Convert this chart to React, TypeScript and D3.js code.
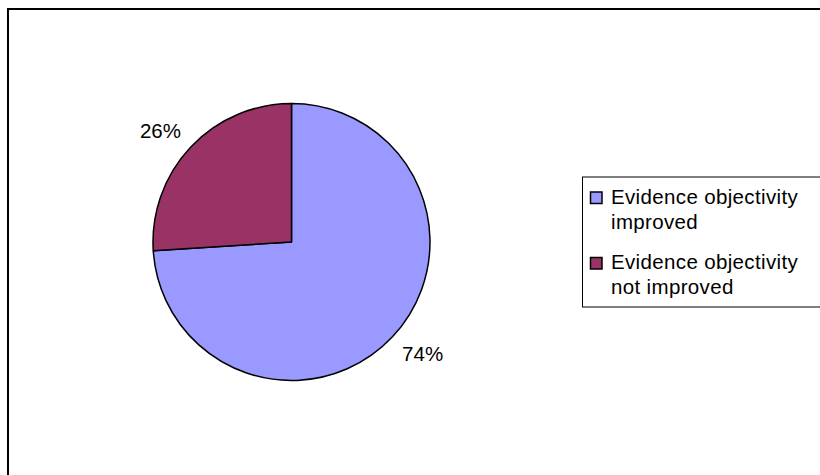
import React from "react";
import * as d3 from "d3";

const categories = ["Evidence objectivity improved", "Evidence objectivity not improved"];
const values = [74, 26];
const legendLines = [["Evidence objectivity", "improved"], ["Evidence objectivity", "not improved"]];
const colors = ["#9999FF", "#993366"];

export default function App() {
  const W = 820, H = 475;
  const cx = 291.5, cy = 242, r = 138.5;
  const pie = d3.pie<number>().sort(null).value((d) => d).startAngle(0).endAngle(2 * Math.PI);
  const arcs = pie(values);
  const arc = d3.arc<d3.PieArcDatum<number>>().innerRadius(0).outerRadius(r);
  const total = d3.sum(values);
  const labelR = 172;
  const font = "'Liberation Sans', Arial, sans-serif";
  return (
    <svg width={W} height={H} style={{ position: "absolute", left: 0, top: 0, background: "#fff" }}>
      <rect x={8} y={9} width={W} height={H} fill="#fff" stroke="#000" strokeWidth={2} />
      <g transform={`translate(${cx},${cy})`}>
        {arcs.map((a, i) => (
          <path key={i} d={arc(a) || ""} fill={colors[i]} stroke="#000" strokeWidth={1.5} strokeLinejoin="round" />
        ))}
        {arcs.map((a, i) => {
          const mid = (a.startAngle + a.endAngle) / 2 - 0.05;
          const x = labelR * Math.sin(mid);
          const y = -labelR * Math.cos(mid);
          return (
            <text key={i} x={x} y={y} dy="0.36em" textAnchor="middle" fontFamily={font} fontSize={20.5} fill="#000">
              {Math.round((a.data / total) * 100)}%
            </text>
          );
        })}
      </g>
      <g>
        <rect x={582.5} y={177} width={300} height={130} fill="#fff" stroke="#000" strokeWidth={1} />
        {categories.map((c, i) => {
          const y0 = 192 + i * 65.5;
          return (
            <g key={c}>
              <rect x={590.5} y={y0} width={11.5} height={11.5} fill={colors[i]} stroke="#000" strokeWidth={1.5} />
              {legendLines[i].map((ln, j) => (
                <text key={j} x={611} y={y0 + 11.5 + j * 25} fontFamily={font} fontSize={20.5} letterSpacing={0.35} fill="#000">
                  {ln}
                </text>
              ))}
            </g>
          );
        })}
      </g>
    </svg>
  );
}
